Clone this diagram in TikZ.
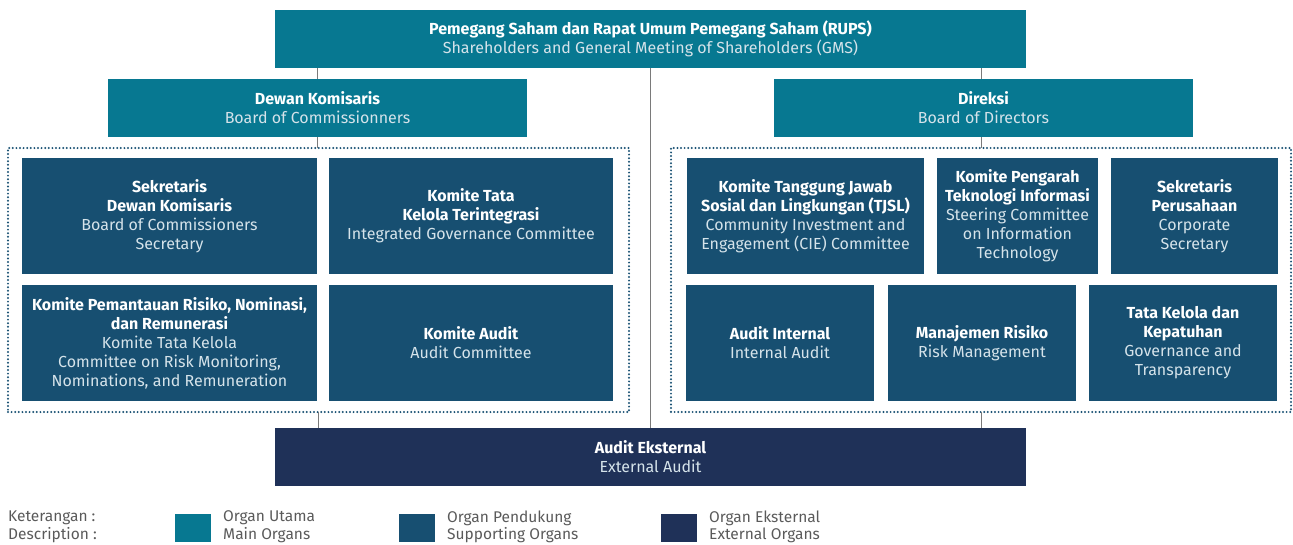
\documentclass[tikz,border=0pt]{standalone}
\usepackage{fontspec}
\setmainfont{Fira Sans}
\usetikzlibrary{positioning}
\definecolor{cmain}{HTML}{077891}
\definecolor{csup}{HTML}{174F71}
\definecolor{cext}{HTML}{1F3158}
\definecolor{csub}{HTML}{D5E3EA}
\definecolor{cline}{HTML}{7A7A7A}
\definecolor{cdot}{HTML}{1A5274}
\definecolor{cleg}{HTML}{5A5A5A}
\tikzset{
  orgbox/.style={inner sep=0pt, outer sep=0pt, align=center, text=white,
    font=\fontsize{16}{19}\selectfont},
  mainorg/.style={orgbox, fill=cmain},
  suporg/.style={orgbox, fill=csup},
  extorg/.style={orgbox, fill=cext},
  frame/.style={draw=cdot, line width=2.2pt, dash pattern=on 0pt off 3.6pt, line cap=round, inner sep=0pt, outer sep=0pt},
  conn/.style={draw=cline, line width=0.9pt},
  legtext/.style={text=cleg, anchor=west, inner sep=0pt, font=\fontsize{15.5}{18}\selectfont, align=left},
}
\newcommand{\obox}[7]{%
  \node[#6, minimum width={#4pt-#2pt}, minimum height={#5pt-#3pt}] (#1) at ({(#2+#4)/2},{(#3+#5)/2}) {#7};}
\newcommand{\sub}[1]{\textcolor{csub}{#1}}
\begin{document}
\begin{tikzpicture}[x=1pt,y=-1pt]
\useasboundingbox (0,0) rectangle (1293,544);
% main organs
\obox{rups}{275}{10}{1026}{68}{mainorg}{\textbf{Pemegang Saham dan Rapat Umum Pemegang Saham (RUPS)}\\\sub{Shareholders and General Meeting of Shareholders (GMS)}}
\obox{dk}{108}{79}{527}{137}{mainorg}{\textbf{Dewan Komisaris}\\\sub{Board of Commissionners}}
\obox{dir}{774}{79}{1193}{137}{mainorg}{\textbf{Direksi}\\\sub{Board of Directors}}
% frames
\obox{lf}{8}{148}{629}{412}{frame}{}
\obox{rf}{671}{148}{1291}{412}{frame}{}
% left supporting
\obox{sdk}{22}{158}{317}{274}{suporg}{\textbf{Sekretaris}\\\textbf{Dewan Komisaris}\\\sub{Board of Commissioners}\\\sub{Secretary}}
\obox{ktk}{329}{158}{613}{274}{suporg}{\textbf{Komite Tata}\\\textbf{Kelola Terintegrasi}\\\sub{Integrated Governance Committee}}
\obox{kpr}{22}{285}{317}{401}{suporg}{\textbf{Komite Pemantauan Risiko, Nominasi,}\\\textbf{dan Remunerasi}\\\sub{Komite Tata Kelola}\\\sub{Committee on Risk Monitoring,}\\\sub{Nominations, and Remuneration}}
\obox{ka}{329}{285}{613}{401}{suporg}{\textbf{Komite Audit}\\\sub{Audit Committee}}
% right supporting
\obox{tjsl}{687}{158}{924}{274}{suporg}{\textbf{Komite Tanggung Jawab}\\\textbf{Sosial dan Lingkungan (TJSL)}\\\sub{Community Investment and}\\\sub{Engagement (CIE) Committee}}
\obox{kp}{937}{158}{1098}{274}{suporg}{\textbf{Komite Pengarah}\\\textbf{Teknologi Informasi}\\\sub{Steering Committee}\\\sub{on Information}\\\sub{Technology}}
\obox{sp}{1111}{158}{1278}{274}{suporg}{\textbf{Sekretaris}\\\textbf{Perusahaan}\\\sub{Corporate}\\\sub{Secretary}}
\obox{ai}{686}{285}{874}{401}{suporg}{\textbf{Audit Internal}\\\sub{Internal Audit}}
\obox{mr}{888}{285}{1076}{401}{suporg}{\textbf{Manajemen Risiko}\\\sub{Risk Management}}
\obox{tk}{1089}{285}{1277}{401}{suporg}{\textbf{Tata Kelola dan}\\\textbf{Kepatuhan}\\\sub{Governance and}\\\sub{Transparency}}
% external
\obox{ext}{275}{428}{1026}{486}{extorg}{\textbf{Audit Eksternal}\\\sub{External Audit}}
% connectors
\draw[conn] (rups.south -| dk.north) -- (dk.north);
\draw[conn] (rups.south -| rf.north) -- (dir.north -| rf.north);
\draw[conn] (dk.south) -- (dk.south |- lf.north);
\draw[conn] (dir.south -| rf.north) -- (rf.north);
\draw[conn] (rups.south) -- (ext.north);
\draw[conn] (lf.south) -- (lf.south |- ext.north);
\draw[conn] (rf.south) -- (rf.south |- ext.north);
% legend
\node[legtext] (k1) at (8,518) {Keterangan :};
\node[legtext] (k2) at (8,535) {Description :};
\obox{s1}{175}{514}{211}{542}{mainorg}{}
\obox{s2}{399}{514}{435}{542}{suporg}{}
\obox{s3}{661}{514}{697}{542}{extorg}{}
\node[legtext] (l1a) at (223,518) {Organ Utama};
\node[legtext] (l1b) at (223,535) {Main Organs};
\node[legtext] (l2a) at (447,518) {Organ Pendukung};
\node[legtext] (l2b) at (447,535) {Supporting Organs};
\node[legtext] (l3a) at (709,518) {Organ Eksternal};
\node[legtext] (l3b) at (709,535) {External Organs};
\end{tikzpicture}
\end{document}
